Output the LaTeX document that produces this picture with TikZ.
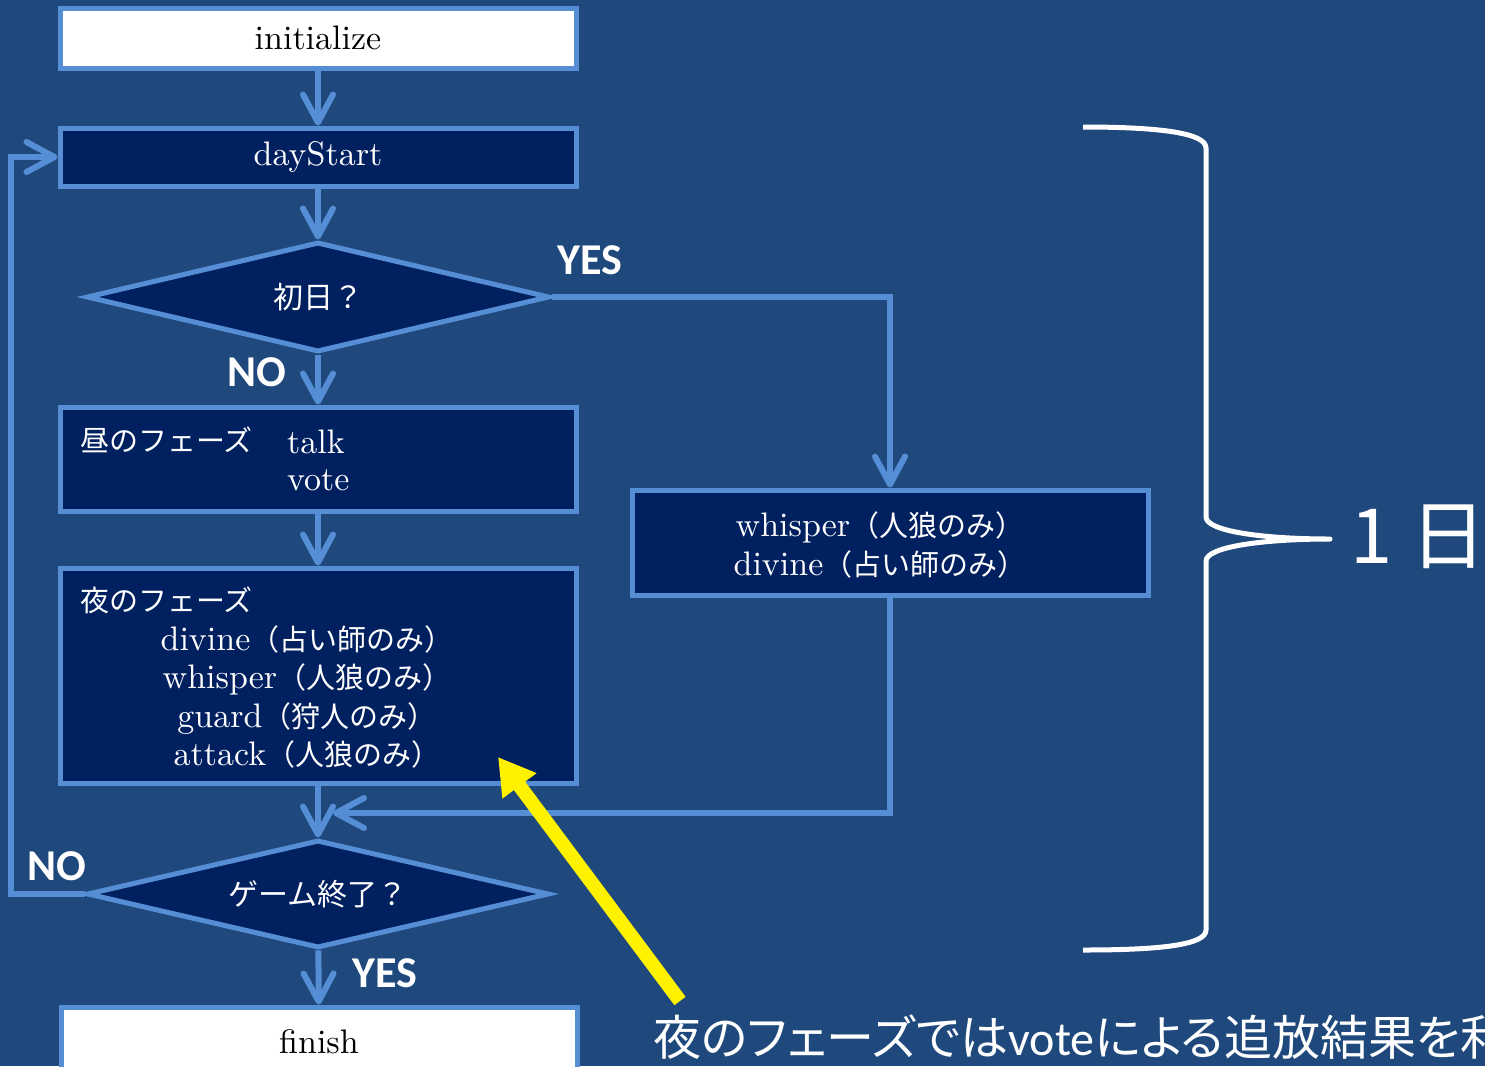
\documentclass[tikz,border=0pt]{standalone}
\usepackage{fontspec}
\setmainfont{lmroman10-regular.otf}
\newfontfamily\jp{Noto Sans CJK JP}
\newfontfamily\jpp{Noto Sans CJK JP}[RawFeature=+palt]
\newfontfamily\carl{Carlito}
\usetikzlibrary{arrows.meta,shapes.geometric}
\definecolor{bgc}{RGB}{31,73,125}
\definecolor{boxc}{RGB}{0,32,96}
\definecolor{bordc}{RGB}{85,142,213}
\newcommand{\jtx}[1]{{\jp\fontsize{29}{38}\selectfont #1}}
\begin{document}
\begin{tikzpicture}[x=1pt,y=-1pt,
  box/.style={draw=bordc, line width=5pt, fill=boxc, text=white, minimum width=516pt, inner sep=0pt, font=\fontsize{34}{38.3}\selectfont},
  wbox/.style={box, fill=white, text=black},
  dec/.style={diamond, shape aspect=4.2, draw=bordc, line width=5pt, fill=boxc, text=white, inner sep=0pt, font=\jp\fontsize{30}{36}\selectfont},
  conn/.style={draw=bordc, line width=6pt, -{Straight Barb[length=28pt,width=30pt,round]}},
  yn/.style={text=white, font=\carl\bfseries\fontsize{44}{50}\selectfont, inner sep=0pt},
  txt/.style={text=white, inner sep=0pt, font=\fontsize{34}{38.3}\selectfont}
]
\fill[bgc] (0,0) rectangle (1485,1066);
\useasboundingbox (0,0) rectangle (1485,1066);

% brace
\draw[white, line width=5pt, line join=round] (1083,127) .. controls (1160,127) and (1206,133) .. (1206,148) -- (1206,517) .. controls (1206,531) and (1262,539) .. (1330,539) .. controls (1262,539) and (1206,547) .. (1206,561) -- (1206,930) .. controls (1206,945) and (1160,950) .. (1083,950);
\node[anchor=west, text=white, inner sep=0pt, font=\jp\fontsize{76}{80}\selectfont] (oneday) at (1350,537) {1\kern18pt 日};

% boxes
\node[wbox, minimum height=60pt] (init) at (318,38) {initialize};
\node[box, minimum height=58pt] (day) at (318,157) {dayStart};
\node[dec, minimum width=463pt, minimum height=110pt] (first) at (318,297) {初日？};
\node[box, minimum height=104pt] (noon) at (318,459) {};
\node[txt, anchor=west] (noonJ) at (80,440) {\jtx{昼のフェーズ}};
\node[txt, anchor=base west] (talk) at (287,453) {talk};
\node[txt, anchor=base west] (vote) at (287,490) {vote};
\node[box, minimum height=215pt] (night) at (318,675.5) {};
\node[txt, anchor=west] (nightJ) at (80,600) {\jtx{夜のフェーズ}};
\node[txt, align=center] (nightL) at (307,697) {divine\jtx{（占い師のみ）}\\whisper\jtx{（人狼のみ）}\\guard\jtx{（狩人のみ）}\\attack\jtx{（人狼のみ）}};
\node[box, minimum height=105pt] (wsp) at (890,542.5) {};
\node[txt, align=center] (wspL) at (880,545) {whisper\jtx{（人狼のみ）}\\divine\jtx{（占い師のみ）}};
\node[dec, minimum width=462pt, minimum height=108pt] (end) at (318,894) {ゲーム終了？};
\node[wbox, minimum height=70pt] (fin) at (319,1042) {finish};

% connectors
\draw[conn] (init) -- (day);
\draw[conn] (day) -- (first);
\draw[conn] (first) -- (noon);
\draw[conn] (noon) -- (night);
\draw[conn] (night) -- (end);
\draw[conn] (end) -- (fin);
\draw[conn] (first.east) -| (wsp.north);
\coordinate (joinp) at (333,813);
\draw[conn] (wsp.south) |- (joinp);
\coordinate (loopx) at (11,0);
\draw[conn] (end.west) -- (end.west -| loopx) |- (day.west);

% labels
\node[yn] (yes1) at (590,260) {YES};
\node[yn] (no1) at (257,372) {NO};
\node[yn] (no2) at (57,866) {NO};
\node[yn] (yes2) at (385,973) {YES};

% note
\node[anchor=west, text=white, inner sep=0pt, font=\jpp\fontsize{48}{54}\selectfont] (note) at (653,1037) {夜のフェーズでは{\carl vote}による追放結果を利};

% yellow arrow
\coordinate (ytail) at (680,1001);
\coordinate (ytip) at (498,757);
\draw[yellow, line width=14pt, -{Triangle[length=36pt,width=40pt]}] (ytail) -- (ytip);
\end{tikzpicture}
\end{document}
